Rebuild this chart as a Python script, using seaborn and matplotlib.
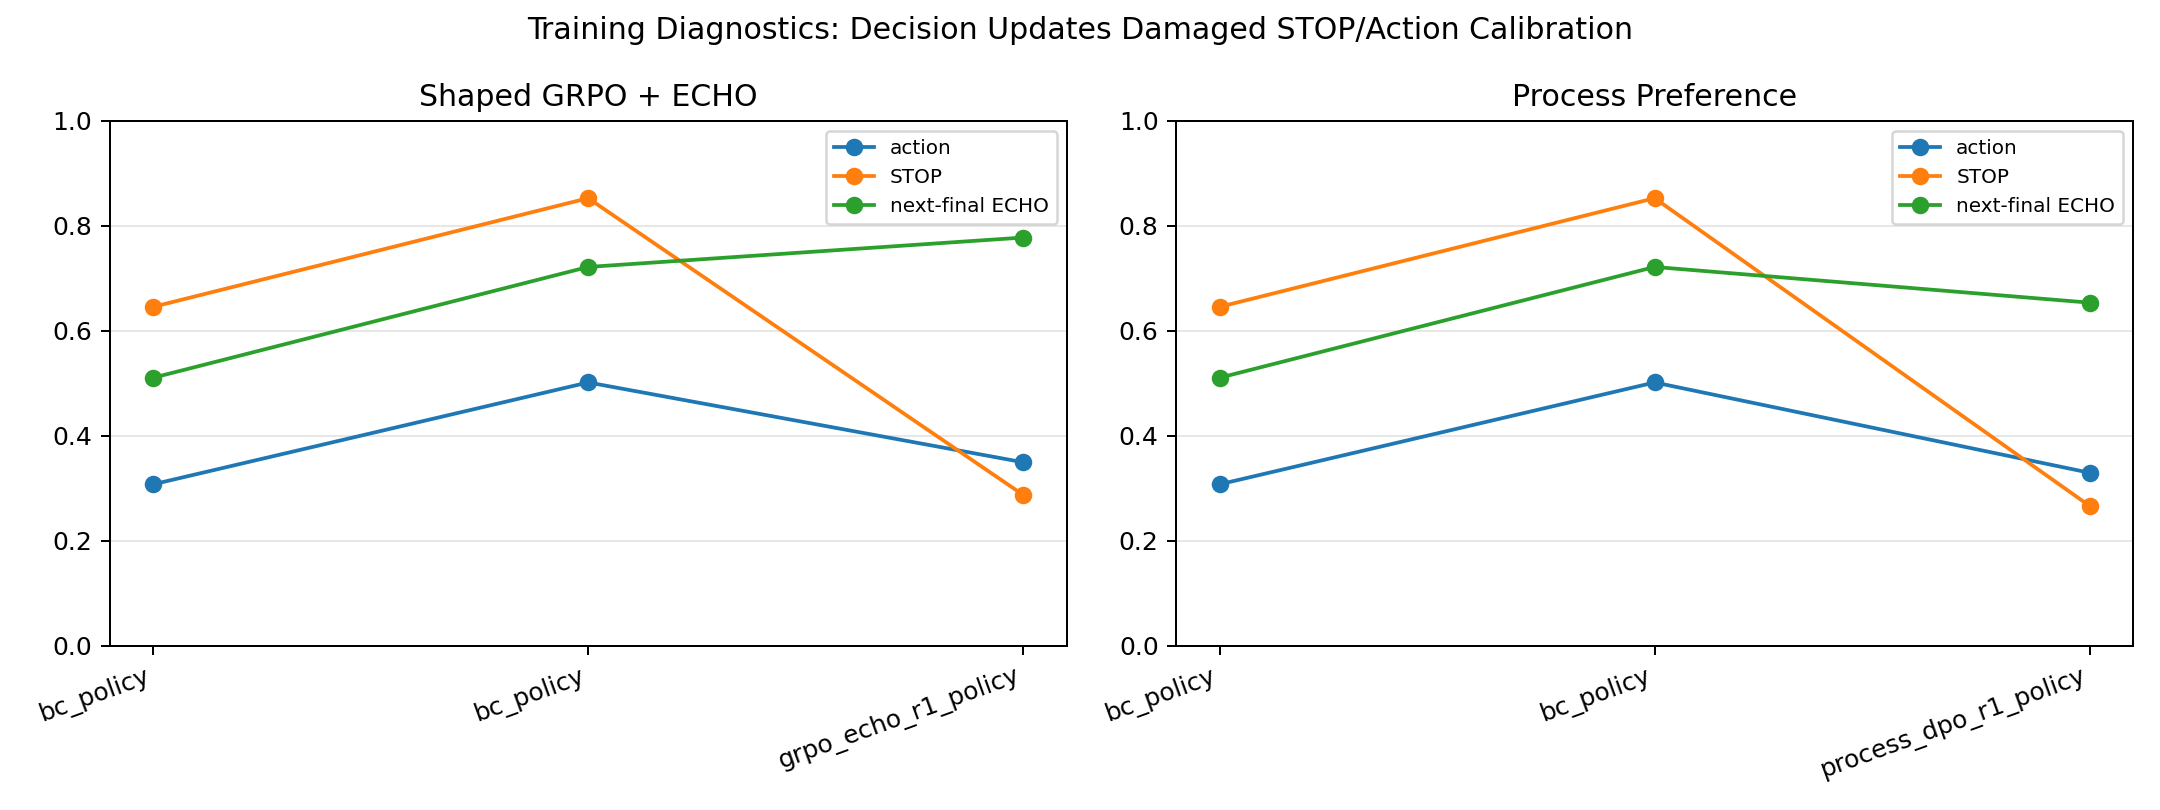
import matplotlib
matplotlib.use("Agg")
import matplotlib.pyplot as plt
import seaborn as sns
import pandas as pd

# values
metrics = ["action", "STOP", "next-final ECHO"]
colors = ["#1f77b4", "#ff7f0e", "#2ca02c"]

grpo_labels = ["bc_policy", "bc_policy", "grpo_echo_r1_policy"]
grpo_action = [0.308, 0.502, 0.350]
grpo_stop = [0.646, 0.853, 0.288]
grpo_echo = [0.511, 0.722, 0.778]

dpo_labels = ["bc_policy", "bc_policy", "process_dpo_r1_policy"]
dpo_action = [0.308, 0.502, 0.330]
dpo_stop = [0.646, 0.853, 0.267]
dpo_echo = [0.511, 0.722, 0.654]

panels = [
    ("Shaped GRPO + ECHO", grpo_labels, [grpo_action, grpo_stop, grpo_echo]),
    ("Process Preference", dpo_labels, [dpo_action, dpo_stop, dpo_echo]),
]

plt.rcParams['font.family'] = ['DejaVu Sans']

fig, axes = plt.subplots(1, 2, figsize=(12, 4.5), dpi=180)

for ax, (title, labels, series) in zip(axes, panels):
    steps = list(range(len(labels)))
    for name, vals, c in zip(metrics, series, colors):
        df = pd.DataFrame({"step": steps, "value": vals})
        sns.lineplot(data=df, x="step", y="value", ax=ax, label=name,
                     color=c, marker="o", markersize=6, linewidth=1.5,
                     markeredgecolor=c, markeredgewidth=1)
    ax.set_title(title)
    ax.set_ylim(0, 1)
    ax.set_xticks(steps)
    ax.set_xticklabels(labels, rotation=20, ha="right")
    ax.set_xlabel("")
    ax.set_ylabel("")
    ax.grid(axis="y", alpha=0.3)
    ax.legend(fontsize=8, loc="upper right")

fig.suptitle("Training Diagnostics: Decision Updates Damaged STOP/Action Calibration")
fig.tight_layout()
fig.savefig("out.png")
